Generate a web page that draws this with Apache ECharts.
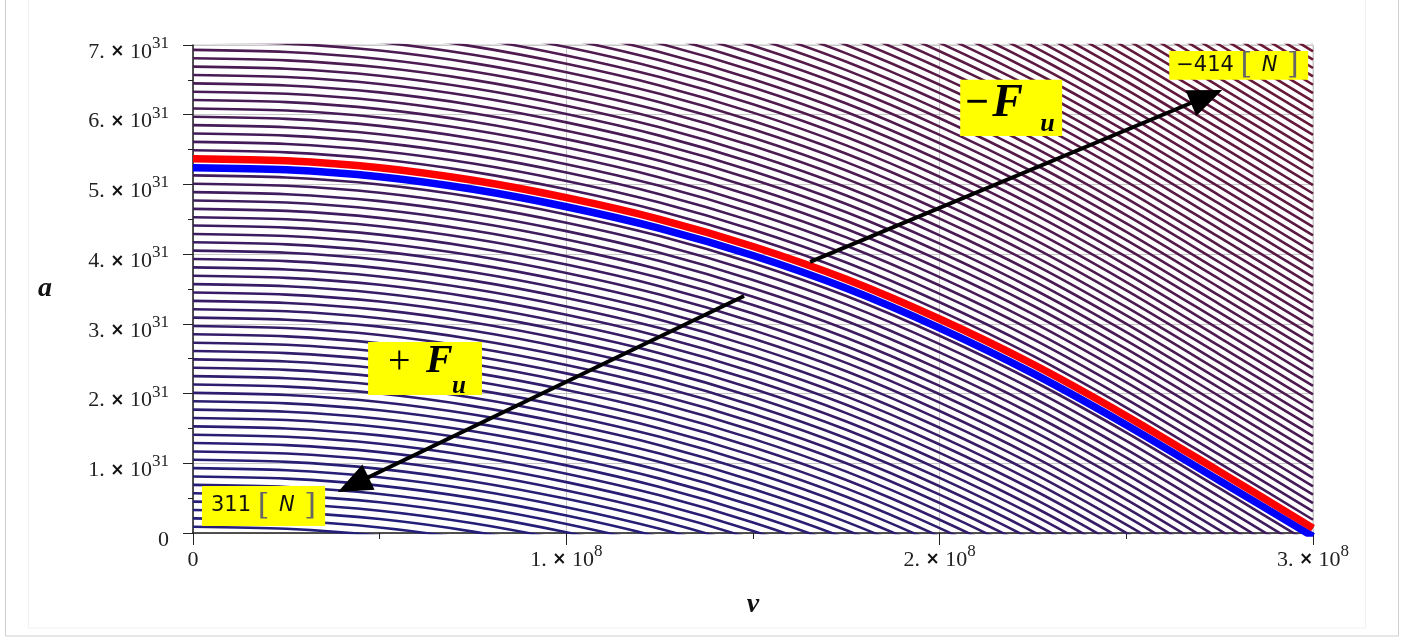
<!DOCTYPE html>
<html>
<head>
<meta charset="utf-8">
<script src="https://cdn.jsdelivr.net/npm/echarts@6/dist/echarts.min.js"></script>
<style>
  html, body { margin: 0; padding: 0; background: #fff; }
  #main { width: 1402px; height: 637px; }
</style>
</head>
<body>
<div id="main"></div>
<script>
    // velocity samples along the curves (m/s)
    var vSamples = [0, 0.25e8, 0.5e8, 0.75e8, 1e8, 1.25e8, 1.5e8, 1.75e8, 2e8, 2.25e8, 2.5e8, 2.75e8, 3e8];
    // red curve (F_u = 0), acceleration in units of 1e31
    var redA = [5.37, 5.34, 5.24, 5.06, 4.81, 4.50, 4.11, 3.64, 3.07, 2.42, 1.68, 0.88, 0.07];
    // blue curve just below it
    var blueA = [5.24, 5.21, 5.11, 4.93, 4.68, 4.37, 3.98, 3.51, 2.94, 2.29, 1.55, 0.75, -0.05];
    // contour family: every line is the red curve moved up/down by a whole number of gaps
    var contourGap = 0.12;   // read at v = 0 (x 1e31)
    var contoursBelow = 44;  // down to the 311 N corner
    var contoursAbove = 58;  // up to the -414 N corner

    var chart = echarts.init(document.getElementById('main'));

    // colour of the contour lines: navy at the bottom, maroon at the top
    function mix(t) {
        var c0 = [34, 30, 122], c1 = [108, 24, 50];
        var c = c0.map(function (v, i) { return Math.round(v + (c1[i] - v) * t); });
        return 'rgb(' + c.join(',') + ')';
    }

    var series = [];
    for (var k = -contoursBelow; k <= contoursAbove; k++) {
        var t = (k + contoursBelow) / (contoursBelow + contoursAbove);
        series.push({
            type: 'line',
            data: vSamples.map(function (v, i) { return [v, redA[i] + k * contourGap]; }),
            symbol: 'none',
            smooth: 0.3,
            silent: true,
            z: 2,
            lineStyle: { width: 2.6, color: mix(t) }
        });
    }
    series.push({
        type: 'line',
        data: vSamples.map(function (v, i) { return [v, blueA[i]]; }),
        symbol: 'none', smooth: 0.3, silent: true, z: 3,
        lineStyle: { width: 7.5, color: '#0000ff' }
    });
    series.push({
        type: 'line',
        data: vSamples.map(function (v, i) { return [v, redA[i]]; }),
        symbol: 'none', smooth: 0.3, silent: true, z: 3,
        lineStyle: { width: 7.5, color: '#ff0000' }
    });

    var tickRich = {
        m: { fontFamily: 'Liberation Serif', fontSize: 22, color: '#222', lineHeight: 34 },
        x: { fontFamily: 'DejaVu Sans', fontSize: 17, fontWeight: 'bold', color: '#111', lineHeight: 34 },
        s: { fontFamily: 'Liberation Serif', fontSize: 17, color: '#222', lineHeight: 14, verticalAlign: 'top' }
    };

    chart.setOption({
        animation: false,
        grid: {
            left: 193, right: 89, top: 45, bottom: 104,
            show: true, borderColor: '#c8c8c8', borderWidth: 1
        },
        xAxis: {
            type: 'value', min: 0, max: 3e8, interval: 1e8,
            name: 'v', nameLocation: 'middle', nameGap: 58,
            nameTextStyle: { fontFamily: 'Liberation Serif', fontWeight: 'bold', fontStyle: 'italic', fontSize: 28, color: '#111' },
            axisLine: { onZero: false, lineStyle: { color: '#222', width: 1.5 } },
            axisTick: { length: 12, lineStyle: { color: '#222' } },
            minorTick: { show: true, splitNumber: 2, length: 6, lineStyle: { color: '#222' } },
            splitLine: { show: true, lineStyle: { color: '#c8c8c8', width: 1 } },
            axisLabel: {
                margin: 10, rich: tickRich,
                formatter: function (val) {
                    if (val === 0) return '{m|0}';
                    return '{m|' + (val / 1e8) + '. }{x|×}{m| 10}{s|8}';
                }
            }
        },
        yAxis: {
            type: 'value', min: 0, max: 7, interval: 1,
            name: 'a', nameLocation: 'middle', nameGap: 141, nameRotate: 0,
            nameTextStyle: { fontFamily: 'Liberation Serif', fontWeight: 'bold', fontStyle: 'italic', fontSize: 28, color: '#111' },
            axisLine: { show: true, onZero: false, lineStyle: { color: '#222', width: 1.5 } },
            axisTick: { show: true, length: 10, lineStyle: { color: '#222' } },
            minorTick: { show: true, splitNumber: 2, length: 5, lineStyle: { color: '#222' } },
            splitLine: { show: true, lineStyle: { color: '#c8c8c8', width: 1 } },
            axisLabel: {
                margin: 24, padding: [14, 0, 0, 0], rich: tickRich,
                formatter: function (val) {
                    if (val === 0) return '{m|0}';
                    return '{m|' + val + '. }{x|×}{m| 10}{s|31}';
                }
            }
        },
        series: series
    });

    // annotations, placed in data coordinates (v, a/1e31)
    function toPx(p) { return chart.convertToPixel({ gridIndex: 0 }, p); }

    function arrow(tail, tip) {
        var p0 = toPx(tail), p1 = toPx(tip);
        var dx = p1[0] - p0[0], dy = p1[1] - p0[1];
        var len = Math.sqrt(dx * dx + dy * dy);
        var ux = dx / len, uy = dy / len;
        var hl = 34, hw = 14;
        var bx = p1[0] - ux * hl, by = p1[1] - uy * hl;
        return [
            { type: 'line', z: 100, shape: { x1: p0[0], y1: p0[1], x2: bx + ux * 4, y2: by + uy * 4 },
              style: { stroke: '#000', lineWidth: 4 } },
            { type: 'polygon', z: 100,
              shape: { points: [[p1[0], p1[1]], [bx - uy * hw, by + ux * hw], [bx + uy * hw, by - ux * hw]] },
              style: { fill: '#000' } }
        ];
    }

    function box(c0, c1) {
        var p0 = toPx(c0), p1 = toPx(c1);
        return { x: p0[0], y: p0[1], w: p1[0] - p0[0], h: p1[1] - p0[1] };
    }

    function rect(b) {
        return { type: 'rect', z: 100, shape: { x: b.x, y: b.y, width: b.w, height: b.h }, style: { fill: '#ffff00' } };
    }

    function txt(x, y, s, font, fill) {
        return { type: 'text', z: 101, x: x, y: y,
                 style: { text: s, font: font, fill: fill || '#000', align: 'left', verticalAlign: 'middle' } };
    }

    var graphics = [];

    // outer frame of the figure
    graphics.push({ type: 'rect', z: 0, shape: { x: 5.5, y: -2, width: 1393, height: 638 },
                    style: { fill: 'none', stroke: '#cfcfcf', lineWidth: 1 } });
    graphics.push({ type: 'rect', z: 0, shape: { x: 28.5, y: -2, width: 1337, height: 630 },
                    style: { fill: 'none', stroke: '#f0f0f0', lineWidth: 1 } });

    graphics = graphics.concat(arrow([1.653e8, 3.888], [2.757e8, 6.355]));
    graphics = graphics.concat(arrow([1.476e8, 3.40], [0.388e8, 0.588]));

    var bMinus = box([2.055e8, 6.50], [2.328e8, 5.695]);
    graphics.push(rect(bMinus));
    graphics.push(txt(bMinus.x + 5, bMinus.y + 24, '−', 'bold 42px "Liberation Serif"'));
    graphics.push(txt(bMinus.x + 32, bMinus.y + 24, 'F', 'italic bold 46px "Liberation Serif"'));
    graphics.push(txt(bMinus.x + 80, bMinus.y + 44, 'u', 'italic bold 26px "Liberation Serif"'));

    var bPlus = box([0.469e8, 2.74], [0.774e8, 1.98]);
    graphics.push(rect(bPlus));
    graphics.push(txt(bPlus.x + 20, bPlus.y + 21, '+', '40px "Liberation Serif"'));
    graphics.push(txt(bPlus.x + 58, bPlus.y + 20, 'F', 'italic bold 40px "Liberation Serif"'));
    graphics.push(txt(bPlus.x + 84, bPlus.y + 45, 'u', 'italic bold 25px "Liberation Serif"'));

    var labelRich = {
        n: { font: '21px "DejaVu Sans"', fill: '#111' },
        b: { font: '30px "DejaVu Serif"', fill: '#666' },
        i: { font: 'italic 21px "DejaVu Sans"', fill: '#111' }
    };
    var bLow = box([0.024e8, 0.674], [0.354e8, 0.10]);
    graphics.push(rect(bLow));
    graphics.push({ type: 'text', z: 101, x: bLow.x + 9, y: bLow.y + bLow.h / 2,
                    style: { text: '{n|311 }{b|[ }{i|N}{b| ]}', rich: labelRich, align: 'left', verticalAlign: 'middle' } });

    var bHigh = box([2.615e8, 6.915], [2.987e8, 6.50]);
    graphics.push(rect(bHigh));
    graphics.push({ type: 'text', z: 101, x: bHigh.x + 7, y: bHigh.y + bHigh.h / 2,
                    style: { text: '{n|−414 }{b|[ }{i|N}{b| ]}', rich: labelRich, align: 'left', verticalAlign: 'middle' } });

    chart.setOption({ graphic: graphics });
</script>
</body>
</html>
